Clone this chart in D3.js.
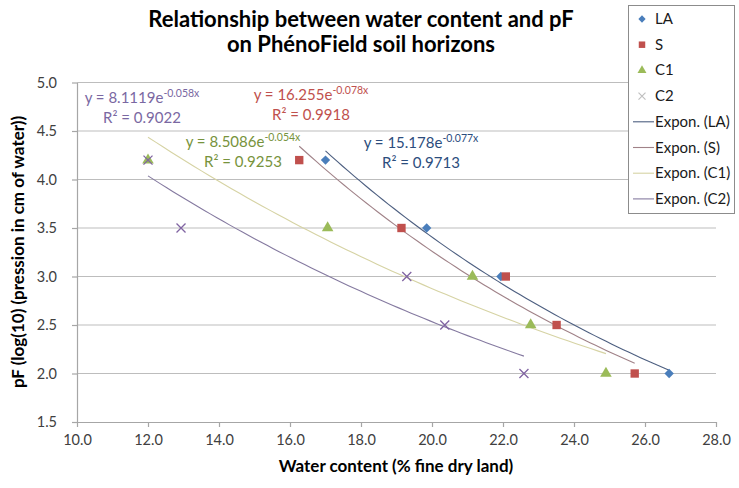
<!DOCTYPE html>
<html><head><meta charset="utf-8">
<script src="https://cdn.jsdelivr.net/npm/d3@7"></script>
<style>
body{margin:0;background:#fff;}
svg{display:block;font-family:Lato,"Open Sans",sans-serif;}
</style></head><body>
<svg id="c" width="739" height="488"></svg>
<script>
// ---- data ----
const seriesNames = ["LA", "S", "C1", "C2"];
const laX = [17.0, 19.85, 21.94, 26.68];
const laY = [4.2, 3.5, 3.0, 2.0];
const sX = [16.26, 19.14, 22.08, 23.51, 25.71];
const sY = [4.2, 3.5, 3.0, 2.5, 2.0];
const c1X = [12.0, 17.06, 21.14, 22.78, 24.9];
const c1Y = [4.2, 3.5, 3.0, 2.5, 2.0];
const c2X = [12.0, 12.93, 19.29, 20.36, 22.59];
const c2Y = [4.2, 3.5, 3.0, 2.5, 2.0];
const xTicks = [10, 12, 14, 16, 18, 20, 22, 24, 26, 28];
const yTicks = [1.5, 2.0, 2.5, 3.0, 3.5, 4.0, 4.5, 5.0];
const eqCoef = ["8.1119", "16.255", "8.5086", "15.178"];
const eqExp = ["-0.058x", "-0.078x", "-0.054x", "-0.077x"];
const eqR2 = ["0.9022", "0.9918", "0.9253", "0.9713"];
const titleLines = ["Relationship between water content and pF", "on PhénoField soil horizons"];
const xTitle = "Water content (% fine dry land)";
const yTitle = "pF (log(10) (pression in cm of water))";

// ---- styles ----
const markerColors = ["#4A7EBB", "#C0504D", "#9BBB59", "#8064A2"];
const trendColors = ["#4d5f80", "#a08288", "#d6d3a4", "#857aa0"];
const eqColors = ["#7a68a2", "#c0504d", "#77933c", "#2c4d7d"];
const eqPos = [[142, 103, 123], [311, 100, 120], [243, 147, 167], [421, 148, 168]];

const svg = d3.select("#c");
const m = {l: 77, r: 716, t: 82.5, b: 422};
const x = d3.scaleLinear().domain([10, 28]).range([m.l, m.r]);
const y = d3.scaleLinear().domain([1.5, 5.0]).range([m.b, m.t]);

// gridlines
svg.append("g").selectAll("line").data(yTicks.filter(d => d > 1.5)).join("line")
  .attr("x1", m.l).attr("x2", m.r).attr("y1", d => y(d)).attr("y2", d => y(d))
  .attr("stroke", "#bdbdbd").attr("stroke-width", 1.2);

// axes
const xAxis = svg.append("g").attr("transform", `translate(0,${m.b})`)
  .call(d3.axisBottom(x).tickValues(xTicks).tickFormat(d3.format(".1f")).tickSize(5).tickSizeOuter(0));
const yAxis = svg.append("g").attr("transform", `translate(${m.l},0)`)
  .call(d3.axisLeft(y).tickValues(yTicks).tickFormat(d3.format(".1f")).tickSize(5).tickSizeOuter(0));
[xAxis, yAxis].forEach(g => {
  g.select(".domain").attr("stroke", "#a6a6a6").attr("stroke-width", 1.2);
  g.selectAll(".tick line").attr("stroke", "#a6a6a6").attr("stroke-width", 1.2);
  g.selectAll(".tick text").attr("fill", "#404040").style("font-size", "14.5px").style("font-family", "Lato, sans-serif");
});
xAxis.selectAll(".tick text").attr("dy", "1.05em");
yAxis.selectAll(".tick text").attr("x", -20);

// exponential fit (least squares on ln y)
function expFit(xs, ys) {
  const n = xs.length;
  const ly = ys.map(Math.log);
  const mx = d3.mean(xs), my = d3.mean(ly);
  let sxy = 0, sxx = 0;
  for (let i = 0; i < n; i++) { sxy += (xs[i] - mx) * (ly[i] - my); sxx += (xs[i] - mx) ** 2; }
  const b = sxy / sxx;
  const a = Math.exp(my - b * mx);
  return v => a * Math.exp(b * v);
}
const allX = [laX, sX, c1X, c2X];
const allY = [laY, sY, c1Y, c2Y];

// trend lines
const line = d3.line().x(d => x(d[0])).y(d => y(d[1]));
allX.forEach((xs, i) => {
  const f = expFit(xs, allY[i]);
  const [lo, hi] = d3.extent(xs);
  const pts = d3.range(0, 61).map(k => { const v = lo + (hi - lo) * k / 60; return [v, f(v)]; });
  svg.append("path").attr("d", line(pts)).attr("fill", "none")
    .attr("stroke", trendColors[i]).attr("stroke-width", 1.1);
});

// markers (diamond = rotated square)
const sym = [d3.symbolSquare, d3.symbolSquare, d3.symbolTriangle];
const symSize = [44, 70, 58];
const symRot = [45, 0, 0];
const pointsG = svg.append("g");
allX.forEach((xs, i) => {
  xs.forEach((v, j) => {
    const px = x(v), py = y(allY[i][j]);
    if (i < 3) {
      pointsG.append("path").attr("d", d3.symbol().type(sym[i]).size(symSize[i])())
        .attr("transform", `translate(${px},${py}) rotate(${symRot[i]})`).attr("fill", markerColors[i]);
    } else {
      const s = 4.5;
      pointsG.append("path").attr("d", `M${px - s},${py - s}L${px + s},${py + s}M${px - s},${py + s}L${px + s},${py - s}`)
        .attr("stroke", markerColors[i]).attr("stroke-width", 1.3).attr("fill", "none");
    }
  });
});

// equations
eqCoef.forEach((c, i) => {
  const [ex, ey1, ey2] = eqPos[i];
  const t = svg.append("text").attr("x", ex).attr("y", ey1).attr("text-anchor", "middle")
    .attr("fill", eqColors[i]).style("font-size", "15px");
  t.append("tspan").text(`y = ${c}e`);
  t.append("tspan").attr("dy", -6).style("font-size", "10.5px").text(eqExp[i]);
  svg.append("text").attr("x", ex).attr("y", ey2).attr("text-anchor", "middle")
    .attr("fill", eqColors[i]).style("font-size", "15px").text(`R² = ${eqR2[i]}`);
});

// title
titleLines.forEach((tl, i) => {
  svg.append("text").attr("x", 361).attr("y", 27 + i * 25).attr("text-anchor", "middle")
    .style("font-size", "22px").style("font-weight", "bold").attr("fill", "#000").text(tl);
});
svg.append("text").attr("x", 396).attr("y", 472).attr("text-anchor", "middle")
  .style("font-size", "17px").style("font-weight", "bold").text(xTitle);
svg.append("text").attr("transform", "translate(24,252) rotate(-90)").attr("text-anchor", "middle")
  .style("font-size", "17px").style("font-weight", "bold").text(yTitle);

// legend
const lg = svg.append("g");
lg.append("rect").attr("x", 628.5).attr("y", 5.5).attr("width", 106).attr("height", 208)
  .attr("fill", "#fff").attr("stroke", "#8c8c8c").attr("stroke-width", 1);
const legendLabels = seriesNames.concat(seriesNames.map(s => `Expon. (${s})`));
legendLabels.forEach((lab, k) => {
  const ly = 19 + k * 25.7;
  if (k < 4) {
    if (k < 3) {
      lg.append("path").attr("d", d3.symbol().type(sym[k]).size(symSize[k] * 0.6)())
        .attr("transform", `translate(642,${ly}) rotate(${symRot[k]})`).attr("fill", markerColors[k]);
    } else {
      const s = 3.5;
      lg.append("path").attr("d", `M${642 - s},${ly - s}L${642 + s},${ly + s}M${642 - s},${ly + s}L${642 + s},${ly - s}`)
        .attr("stroke", "#c0c0c0").attr("stroke-width", 1.2);
    }
  } else {
    lg.append("line").attr("x1", 633).attr("x2", 654).attr("y1", ly).attr("y2", ly)
      .attr("stroke", trendColors[k - 4]).attr("stroke-width", 1.1);
  }
  lg.append("text").attr("x", 655).attr("y", ly + 5).style("font-size", "15px")
    .attr("fill", "#1a1a1a").text(lab);
});
</script></body></html>
